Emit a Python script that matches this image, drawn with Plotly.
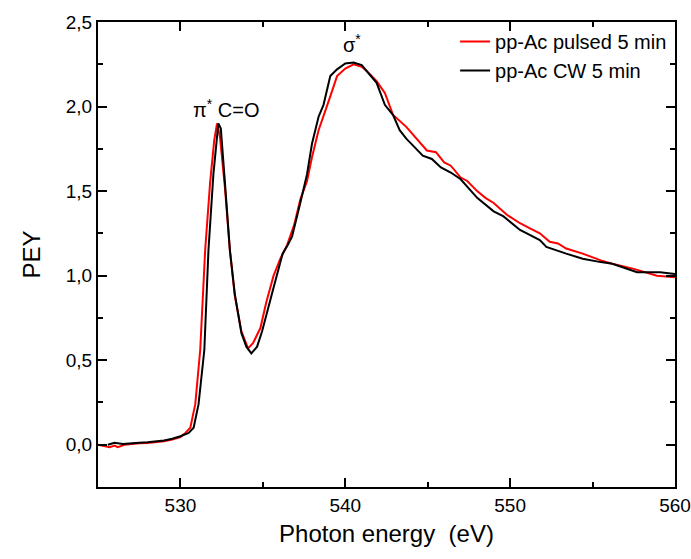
import plotly.graph_objects as go

# Pulsed (red)
pulsed_x = [525.0, 525.3, 525.7, 526.0, 526.2, 526.6, 527.0, 527.5, 528.0, 528.5, 529.0, 529.5,
            530.0, 530.3, 530.6, 530.9, 531.2, 531.5, 531.8, 532.05, 532.22, 532.4, 532.7, 533.0,
            533.3, 533.7, 534.1, 534.4, 534.85, 535.2, 535.65, 536.06, 536.47, 536.9, 537.27, 537.68,
            537.98, 538.38, 538.68, 539.09, 539.5, 540.0, 540.5, 541.0, 541.3, 541.9, 542.4, 542.9,
            543.7, 544.3, 544.95, 545.5, 546.0, 546.4, 547.0, 547.4, 548.0, 548.5, 549.0, 549.8,
            550.6, 551.2, 551.8, 552.4, 552.9, 553.4, 554.4, 555.5, 556.2, 557.5, 558.9, 560.0]
pulsed_y = [0.0, -0.005, -0.015, -0.005, -0.015, 0.0, 0.005, 0.008, 0.01, 0.015, 0.02, 0.03,
            0.045, 0.07, 0.10, 0.24, 0.56, 1.15, 1.55, 1.80, 1.90, 1.82, 1.52, 1.15,
            0.88, 0.67, 0.57, 0.60, 0.69, 0.84, 1.00, 1.10, 1.18, 1.30, 1.45, 1.56,
            1.70, 1.86, 1.94, 2.06, 2.18, 2.225, 2.25, 2.235, 2.21, 2.15, 2.08, 1.95,
            1.88, 1.81, 1.74, 1.73, 1.67, 1.65, 1.58, 1.56, 1.50, 1.46, 1.43, 1.36,
            1.31, 1.28, 1.25, 1.20, 1.19, 1.16, 1.13, 1.09, 1.07, 1.04, 1.00, 0.99]

# CW (black)
cw_x = [525.6, 526.0, 526.5, 527.0, 527.5, 528.0, 528.5, 529.0, 529.5, 530.0, 530.5, 530.8,
        531.1, 531.45, 531.7, 532.0, 532.3, 532.45, 532.7, 533.0, 533.3, 533.7, 534.0, 534.3,
        534.65, 534.95, 535.6, 536.2, 536.5, 536.77, 537.27, 537.68, 537.98, 538.38, 538.68,
        539.09, 539.5, 540.0, 540.5, 541.0, 541.3, 541.9, 542.4, 542.9, 543.3, 543.7, 544.2,
        544.7, 545.25, 545.8, 546.4, 547.0, 548.0, 549.0, 549.6, 550.6, 551.8, 552.2, 553.4,
        554.4, 555.5, 556.2, 557.7, 559.1, 560.0]
cw_y = [0.0, 0.012, 0.005, 0.01, 0.012, 0.015, 0.02, 0.025, 0.035, 0.05, 0.07, 0.10,
        0.24, 0.56, 1.15, 1.60, 1.90, 1.87, 1.55, 1.15, 0.89, 0.66, 0.58, 0.54,
        0.58, 0.67, 0.91, 1.13, 1.18, 1.23, 1.43, 1.60, 1.78, 1.94, 2.01,
        2.18, 2.22, 2.255, 2.26, 2.245, 2.21, 2.14, 2.01, 1.95, 1.86, 1.81, 1.76,
        1.71, 1.69, 1.64, 1.61, 1.57, 1.46, 1.38, 1.35, 1.27, 1.21, 1.17, 1.13,
        1.10, 1.08, 1.07, 1.02, 1.02, 1.01]

y_ticks = [0.0, 0.5, 1.0, 1.5, 2.0, 2.5]
x_ticks = [530, 540, 550, 560]

font = "Liberation Sans, Arial, sans-serif"

fig = go.Figure()
fig.add_trace(go.Scatter(x=pulsed_x, y=pulsed_y, mode="lines", name="pp-Ac pulsed 5 min",
                         line=dict(color="#ff0000", width=2)))
fig.add_trace(go.Scatter(x=cw_x, y=cw_y, mode="lines", name="pp-Ac CW 5 min",
                         line=dict(color="#000000", width=2)))

axis_common = dict(showline=True, linecolor="black", linewidth=2, mirror="ticks",
                   ticks="inside", ticklen=9, tickwidth=2, tickcolor="black",
                   showgrid=False, zeroline=False, automargin=False,
                   tickfont=dict(family=font, size=19, color="black"))

fig.update_xaxes(range=[525, 560], tickvals=x_ticks,
                 minor=dict(ticks="inside", ticklen=5, tickwidth=2, tickcolor="black", dtick=5, tick0=525),
                 title=dict(text="Photon energy\u00a0\u00a0(eV)", font=dict(family=font, size=24, color="black"), standoff=10),
                 **axis_common)
fig.update_yaxes(range=[-0.25, 2.5], tickvals=y_ticks, tickformat=".1f",
                 minor=dict(ticks="inside", ticklen=5, tickwidth=2, tickcolor="black", dtick=0.25, tick0=0),
                 title=dict(text="PEY", font=dict(family=font, size=24, color="black"), standoff=18),
                 **axis_common)

fig.add_annotation(x=532.8, y=1.99, text="π<sup>*</sup> C=O", showarrow=False,
                   font=dict(family=font, size=20, color="black"))
fig.add_annotation(x=540.4, y=2.37, text="σ<sup>*</sup>", showarrow=False,
                   font=dict(family=font, size=20, color="black"))

fig.update_layout(
    width=691, height=559,
    margin=dict(l=98, r=16, t=22, b=72),
    paper_bgcolor="white", plot_bgcolor="white",
    separators=",.",
    showlegend=True,
    legend=dict(x=0.995, y=1.0, xanchor="right", yanchor="top",
                bgcolor="rgba(0,0,0,0)", font=dict(family=font, size=20, color="black"),
                tracegroupgap=0, itemwidth=30),
)

fig.write_html("out.html", config={"displayModeBar": False},
               post_script="document.body.style.margin='0';document.body.style.overflow='hidden';")
